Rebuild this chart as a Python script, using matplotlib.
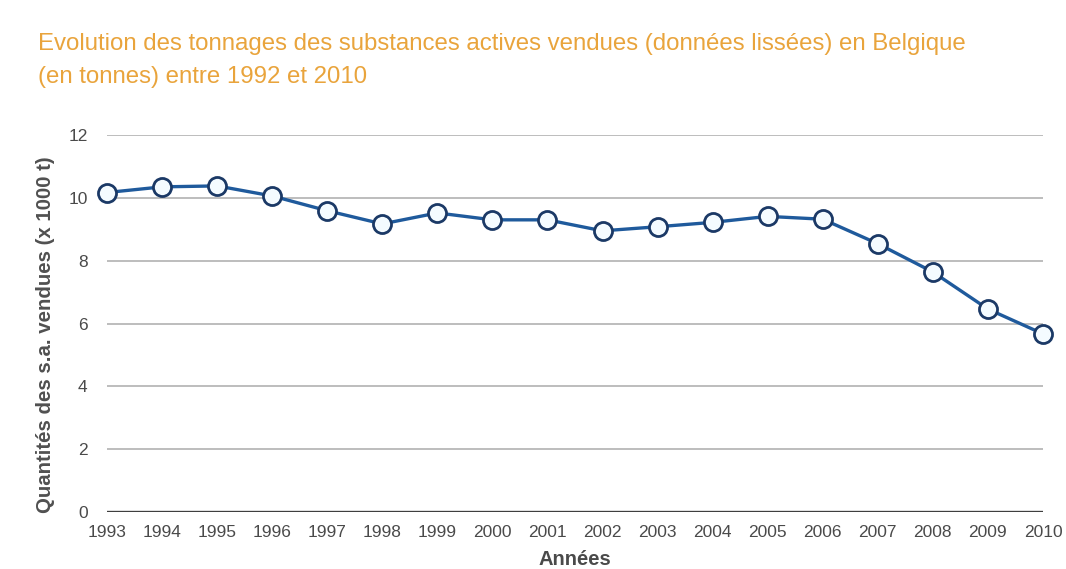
import matplotlib
matplotlib.use("Agg")
import matplotlib.pyplot as plt

plt.rcParams["font.family"] = ["Liberation Sans", "DejaVu Sans"]

years = [1993, 1994, 1995, 1996, 1997, 1998, 1999, 2000, 2001, 2002,
         2003, 2004, 2005, 2006, 2007, 2008, 2009, 2010]
tonnes = [10.17, 10.35, 10.38, 10.06, 9.59, 9.17, 9.52, 9.30, 9.30, 8.95,
          9.08, 9.22, 9.41, 9.32, 8.54, 7.64, 6.46, 5.67]
yticks = [0, 2, 4, 6, 8, 10, 12]

title = ("Evolution des tonnages des substances actives vendues (données lissées) en Belgique\n"
         "(en tonnes) entre 1992 et 2010")

fig = plt.figure(figsize=(10.66, 5.69), dpi=100)
ax = fig.add_axes([0.1004, 0.1002, 0.8780, 0.6625])

for y in yticks[1:]:
    ax.axhline(y, color="#b8b8b8", lw=1.3, zorder=1)
ax.axhline(0, color="#3f3f3f", lw=2.4, zorder=1)

ax.plot(years, tonnes, color="#1f5a9c", lw=2.4, marker="o", markersize=13,
        markerfacecolor="#f4fbff", markeredgecolor="#1b3966", markeredgewidth=2.0,
        clip_on=False, zorder=3)

ax.set_xlim(years[0], years[-1])
ax.set_ylim(0, 12)
ax.set_xticks(years)
ax.set_yticks(yticks)
ax.tick_params(length=0, labelsize=12.5, colors="#4a4a4a")
ax.tick_params(axis="x", pad=9.5)
ax.tick_params(axis="y", pad=14)
for s in ax.spines.values():
    s.set_visible(False)

ax.set_xlabel("Années", fontsize=14.5, fontweight="bold", color="#4a4a4a", labelpad=7)
ax.set_ylabel("Quantités des s.a. vendues (x 1000 t)", fontsize=14.7, fontweight="bold",
              color="#505050")
ax.yaxis.set_label_coords(-0.056, 0.47)

fig.text(0.036, 0.942, title, fontsize=17.3, color="#e9a43c", va="top", ha="left",
         linespacing=1.65)

fig.savefig("out.png", dpi=100)
